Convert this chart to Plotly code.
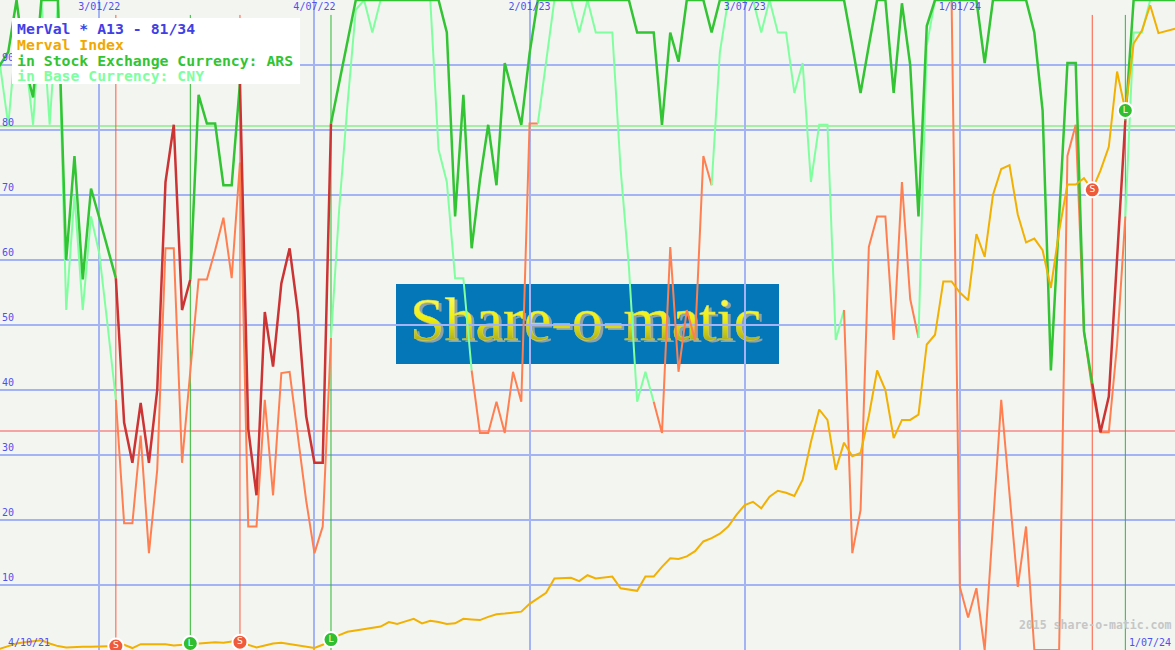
import base64
import pandas as pd
import plotly.graph_objects as go

# ---------------- data (weekly, Mondays) ----------------
dates = pd.date_range("2021-10-04", "2024-07-01", freq="7D")

merval = [
    0.2, 0.2, 0.6, 1.0, 1.2, 1.3, 1.5, 1.0, 0.6, 0.4,
    0.5, 0.5, 0.5, 0.5, 0.6, 0.6, 0.8, 0.3, 0.9, 0.9,
    0.9, 0.9, 0.7, 0.8, 1.0, 1.1, 1.1, 1.2, 1.1, 1.3,
    1.2, 0.8, 0.4, 0.7, 1.0, 1.1, 0.9, 0.7, 0.6, 0.3,
    0.8, 1.6, 2.3, 2.8, 3.0, 3.2, 3.3, 3.6, 4.3, 4.0,
    4.4, 4.8, 4.1, 4.5, 4.3, 4.0, 4.1, 4.8, 4.7, 4.6,
    5.1, 5.5, 5.6, 5.7, 5.9, 7.1, 7.9, 8.8, 11.0, 11.1,
    11.1, 10.6, 11.5, 11.0, 11.2, 11.3, 9.5, 9.3, 9.1, 11.3,
    11.3, 12.8, 14.1, 14.0, 14.4, 15.2, 16.7, 17.2, 17.9, 19.0,
    20.8, 22.3, 22.8, 21.8, 23.6, 24.5, 24.2, 23.7, 26.2, 32.0,
    37.0, 35.4, 27.7, 31.9, 29.8, 30.3, 36.0, 43.0, 40.0, 32.6,
    35.4, 35.4, 36.2, 47.0, 48.5, 56.7, 56.7, 55.0, 53.8, 64.0,
    60.5, 70.0, 74.0, 74.6, 67.0, 62.7, 63.3, 61.5, 55.7, 64.5,
    71.6, 71.6, 72.6, 70.8, 73.8, 77.4, 89.0, 83.0, 93.3, 95.3,
    99.2, 94.9, 95.2, 95.6,
]

ars = [
    88, 90, 92, 100, 90, 85, 100, 100, 100, 60,
    76, 57, 71, 66.5, 62, 57.2, 35, 28.8, 38, 28.8,
    40, 72, 80.8, 52.3, 57, 85.4, 81, 81, 71.5, 71.5,
    87.2, 34, 23.8, 52, 43.6, 56.4, 61.8, 52, 36, 28.8,
    28.8, 81, 87.3, 93.6, 100, 100, 100, 100, 100, 100,
    100, 100, 100, 100, 100, 95, 66.7, 85.4, 61.8, 72.3,
    80.8, 71.5, 90.3, 85.5, 80.8, 91.8, 100, 100, 100, 100,
    100, 100, 100, 100, 100, 100, 100, 100, 95, 95,
    95, 80.8, 95, 90.5, 100, 100, 100, 95, 100, 100,
    100, 100, 100, 100, 100, 100, 100, 100, 100, 100,
    100, 100, 100, 100, 93, 85.7, 93, 100, 100, 85.7,
    99.5, 90, 66.7, 96, 100, 100, 100, 100, 100, 100,
    90.3, 100, 100, 100, 100, 100, 95, 83, 43, 66,
    90.3, 90.3, 49, 41, 33.5, 39, 60, 81.5, 100, 100,
    100, 100, 100, 100,
]

cny = [
    95, 90, 80.8, 95, 92, 80.8, 100, 80.8, 100, 52.3,
    70, 52.3, 66.7, 61, 50, 38.5, 19.5, 19.5, 33, 14.9,
    27.7, 61.8, 61.8, 28.8, 43, 57, 57, 61.5, 66.5, 57.2,
    75, 19, 19, 38.5, 23.8, 42.6, 42.8, 33, 23, 14.9,
    19, 48, 68, 84, 98.5, 100, 95, 100, 100, 100,
    100, 100, 100, 100, 77, 72, 57.2, 57.2, 43, 33.4,
    33.4, 38.2, 33.4, 42.8, 38.2, 81, 81, 90.7, 100, 100,
    100, 95, 100, 95, 95, 95, 74, 59, 38.2, 42.8,
    38.2, 33.4, 62, 42.8, 52.3, 47.7, 76, 71.5, 92, 100,
    100, 100, 100, 95, 100, 95, 95, 85.7, 90.3, 72,
    80.8, 80.8, 47.7, 52.3, 14.9, 21.5, 62, 66.7, 66.7, 47.7,
    72, 54, 48, 93, 100, 100, 100, 9.7, 5, 9.5,
    0, 19, 38.5, 24, 9.7, 19, 0, 0, 0, 0,
    76, 80.8, 49, 40, 33.5, 33.5, 47, 66.7, 95, 95,
    100, 100, 100, 100,
]

ars_sells = ["2022-01-17", "2022-05-02", "2024-04-22"]
ars_buys = ["2022-03-21", "2022-07-18", "2024-05-20"]
cny_sells = ["2022-01-17", "2022-11-14", "2023-04-17", "2023-09-25", "2023-12-25"]
cny_buys = ["2022-07-18", "2023-01-09", "2023-06-05", "2023-11-27", "2024-05-20"]

buy_level = 80.6
sell_level = 33.7

grid_dates = ["2022-01-03", "2022-07-04", "2023-01-02", "2023-07-03", "2024-01-01"]
y_ticks = [10, 20, 30, 40, 50, 60, 70, 80, 90]

legend_lines = [
    ("MerVal * A13 - 81/34", "#4040e6"),
    ("Merval Index", "#f0a800"),
    ("in Stock Exchange Currency: ARS", "#33c433"),
    ("in Base Currency: CNY", "#80ffa0"),
]

# ---------------- helpers ----------------
def states(sells, buys):
    ev = sorted([(pd.Timestamp(d), 0) for d in sells] + [(pd.Timestamp(d), 1) for d in buys])
    out, cur, j = [], 1, 0
    for d in dates:
        while j < len(ev) and ev[j][0] <= d:
            cur = ev[j][1]
            j += 1
        out.append(cur)
    return out


def runs(vals, st):
    res, a, n = [], 0, len(vals)
    for i in range(1, n):
        if i == n - 1 or st[i] != st[a]:
            res.append((st[a], a, i))
            a = i
    return res


def fmt(d):
    d = pd.Timestamp(d)
    return f"{d.day}/{d.month:02d}/{d.year % 100:02d}"


BG = "#f3f5f1"
GRID = "#a3b3f3"
W, H = 1175, 650

fig = go.Figure()

# CNY line (light)
for s, a, b in runs(cny, states(cny_sells, cny_buys)):
    fig.add_trace(go.Scatter(
        x=dates[a:b + 1], y=cny[a:b + 1], mode="lines",
        line=dict(color="#80ff9f" if s else "#ff7f50", width=2),
        showlegend=False, hoverinfo="skip"))

# ARS line (dark)
for s, a, b in runs(ars, states(ars_sells, ars_buys)):
    fig.add_trace(go.Scatter(
        x=dates[a:b + 1], y=ars[a:b + 1], mode="lines",
        line=dict(color="#33c433" if s else "#cc3333", width=2.5),
        showlegend=False, hoverinfo="skip"))

# Merval index
fig.add_trace(go.Scatter(x=dates, y=merval, mode="lines",
                         line=dict(color="#f2b000", width=2),
                         showlegend=False, hoverinfo="skip"))

# signal markers on the index line
idx = {d: i for i, d in enumerate(dates)}
for sig, col, letter in ((ars_sells, "#f05a3c", "S"), (ars_buys, "#2fbf2f", "L")):
    xs = [pd.Timestamp(d) for d in sig]
    ys = [merval[idx[x]] for x in xs]
    fig.add_trace(go.Scatter(
        x=xs, y=ys, mode="markers+text", text=[letter] * len(xs),
        textposition="middle center",
        textfont=dict(family="DejaVu Sans", size=9, color="white"),
        marker=dict(size=15, color=col, line=dict(color="white", width=2)),
        showlegend=False, hoverinfo="skip"))

shapes = []
# threshold lines
shapes.append(dict(type="line", xref="paper", x0=0, x1=1, yref="y", y0=buy_level, y1=buy_level,
                   line=dict(color="#a6eea6", width=2), layer="between"))
shapes.append(dict(type="line", xref="paper", x0=0, x1=1, yref="y", y0=sell_level, y1=sell_level,
                   line=dict(color="#f5a3a3", width=2), layer="between"))
# signal vertical lines
for sig, col in ((ars_sells, "#ff5a3c"), (ars_buys, "#2fb82f")):
    for d in sig:
        shapes.append(dict(type="line", xref="x", x0=d, x1=d, yref="y", y0=0, y1=97.7,
                           line=dict(color=col, width=1), layer="between"))
# legend box
shapes.append(dict(type="rect", xref="paper", yref="paper",
                   x0=12 / W, x1=300 / W, y0=1 - 84 / H, y1=1 - 18 / H,
                   fillcolor="white", line=dict(width=0), layer="above"))

annotations = []
for k, (txt, col) in enumerate(legend_lines):
    annotations.append(dict(xref="paper", yref="paper", x=15 / W, y=1 - (28 + 16 * k) / H,
                            xanchor="left", yanchor="middle", showarrow=False, text=f"<b>{txt}</b>",
                            font=dict(family="DejaVu Sans Mono", size=14.8, color=col)))
annotations.append(dict(xref="paper", yref="paper", x=6 / W, y=8 / H, xanchor="left",
                        yanchor="middle", showarrow=False, text=fmt(dates[0]),
                        font=dict(family="DejaVu Sans Mono", size=10, color="#5050ee")))
annotations.append(dict(xref="paper", yref="paper", x=1173 / W, y=8 / H, xanchor="right",
                        yanchor="middle", showarrow=False, text=fmt(dates[-1]),
                        font=dict(family="DejaVu Sans Mono", size=10, color="#5050ee")))
annotations.append(dict(xref="paper", yref="paper", x=1173 / W, y=25 / H, xanchor="right",
                        yanchor="middle", showarrow=False, text="<b>2015 share-o-matic.com</b>",
                        font=dict(family="DejaVu Sans Mono", size=11.5, color="#c6c6c6")))

# watermark logo (drawn below the grid)
svg = """<svg xmlns="http://www.w3.org/2000/svg" width="383" height="80" viewBox="0 0 383 80">
<defs><linearGradient id="g" x1="0" y1="0" x2="0" y2="1">
<stop offset="0" stop-color="#ffff80"/><stop offset="0.5" stop-color="#eeee10"/>
<stop offset="1" stop-color="#8c8c20"/></linearGradient></defs>
<rect width="383" height="80" fill="#0477b9"/>
<text x="17" y="58" font-family="Liberation Serif" font-size="62" fill="#8fa2a6">Share-o-matic</text>
<text x="14" y="56" font-family="Liberation Serif" font-size="62" fill="url(#g)"
 stroke="#d8d860" stroke-width="0.4">Share-o-matic</text>
</svg>"""
uri = "data:image/svg+xml;base64," + base64.b64encode(svg.encode()).decode()

fig.update_layout(
    width=W, height=H, margin=dict(l=0, r=0, t=0, b=0),
    paper_bgcolor=BG, plot_bgcolor=BG,
    shapes=shapes, annotations=annotations,
    images=[dict(source=uri, xref="paper", yref="paper", x=396 / W, y=1 - 284 / H,
                 sizex=383 / W, sizey=80 / H, xanchor="left", yanchor="top",
                 sizing="stretch", layer="below")],
    xaxis=dict(type="date", range=["2021-10-11", "2024-07-01"], side="top",
               tickvals=grid_dates, tickformat="%-d/%m/%y", ticklabelposition="inside",
               ticks="", showgrid=True, gridcolor=GRID, gridwidth=2, zeroline=False,
               showline=False, tickfont=dict(family="DejaVu Sans Mono", size=10, color="#5050ee")),
    yaxis=dict(range=[0, 100], tickvals=y_ticks, ticklabelposition="inside", ticks="",
               ticklabelshift=-8, ticklabelstandoff=-1,
               showgrid=True, gridcolor=GRID, gridwidth=2, zeroline=False, showline=False,
               tickfont=dict(family="DejaVu Sans Mono", size=10, color="#5050ee")),
)

fig.write_html("out.html", config={"displayModeBar": False, "staticPlot": True},
               post_script="document.body.style.margin='0';document.body.style.padding='0';"
                           "document.body.style.overflow='hidden';")
